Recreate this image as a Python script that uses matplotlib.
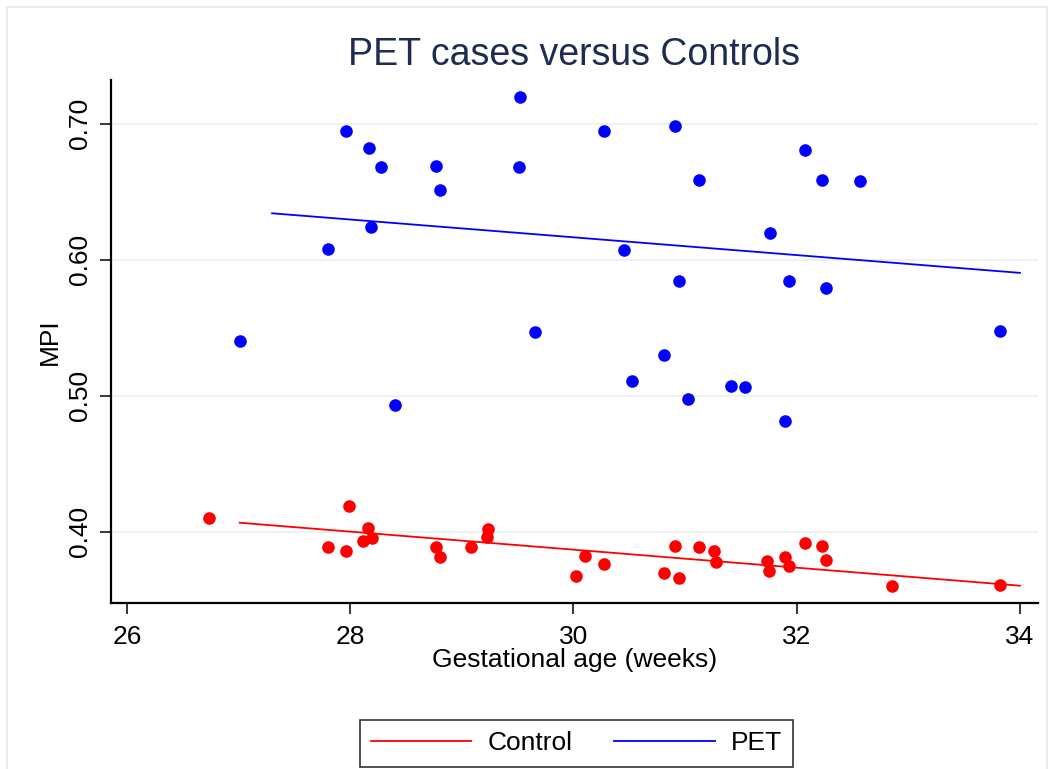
import matplotlib
matplotlib.use("Agg")
import matplotlib.pyplot as plt
from matplotlib.lines import Line2D
from matplotlib.patches import Rectangle

# Gestational age (weeks) and MPI for PET cases
pet_age = [27.965, 28.166, 28.279, 28.769, 28.802, 28.189, 27.801, 27.015, 28.401,
           29.524, 30.274, 30.913, 32.075, 29.509, 31.128, 31.759, 30.456, 30.946,
           31.929, 29.656, 30.809, 30.525, 31.412, 31.540, 31.024, 31.896, 32.230,
           32.565, 32.266, 33.825]
pet_mpi = [0.6949, 0.6819, 0.6679, 0.6687, 0.6510, 0.6243, 0.6079, 0.5402, 0.4929,
           0.7196, 0.6946, 0.6985, 0.6807, 0.6679, 0.6584, 0.6199, 0.6071, 0.5846,
           0.5846, 0.5466, 0.5297, 0.5110, 0.5071, 0.5064, 0.4976, 0.4814, 0.6588,
           0.6581, 0.5791, 0.5478]

# Gestational age (weeks) and MPI for controls
ctrl_age = [26.735, 27.992, 28.162, 28.193, 28.118, 27.801, 27.965, 28.766, 28.802,
            29.082, 29.232, 29.222, 30.101, 30.026, 30.274, 30.913, 30.809, 30.946,
            31.125, 31.260, 31.275, 31.732, 31.756, 31.896, 31.932, 32.075, 32.230,
            32.266, 32.855, 33.825]
ctrl_mpi = [0.4101, 0.4187, 0.4025, 0.3951, 0.3929, 0.3890, 0.3860, 0.3890, 0.3816,
            0.3890, 0.4022, 0.3963, 0.3819, 0.3676, 0.3762, 0.3898, 0.3699, 0.3657,
            0.3890, 0.3860, 0.3777, 0.3787, 0.3709, 0.3812, 0.3746, 0.3919, 0.3897,
            0.3790, 0.3603, 0.3608]

# Linear fit endpoints
pet_fit_age = [27.30, 34.0]
pet_fit_mpi = [0.6341, 0.5903]
ctrl_fit_age = [27.01, 34.0]
ctrl_fit_mpi = [0.4066, 0.3603]

x_ticks = [26, 28, 30, 32, 34]
y_ticks = [0.40, 0.50, 0.60, 0.70]
y_tick_labels = ["0.40", "0.50", "0.60", "0.70"]

plt.rcParams['font.family'] = ['Liberation Sans', 'DejaVu Sans']

W, H = 1054, 769
fig = plt.figure(figsize=(W / 100, H / 100), dpi=100)
fig.patch.set_facecolor('white')

# light outline around the graph region
fig.patches.append(Rectangle((7 / W, -0.02), (1047 - 7) / W, 1.02 - 7 / H,
                             transform=fig.transFigure, fill=False,
                             edgecolor='#E4ECEE', lw=1.5))

left, right, top, bottom = 111, 1037.7, 80, 602.7
ax = fig.add_axes([left / W, 1 - bottom / H, (right - left) / W, (bottom - top) / H])

red = '#FF0000'
blue = '#0000FF'

ax.scatter(ctrl_age, ctrl_mpi, s=82, color=red, linewidths=0, zorder=3)
ax.scatter(pet_age, pet_mpi, s=82, color=blue, linewidths=0, zorder=3)
ax.plot(ctrl_fit_age, ctrl_fit_mpi, color=red, lw=1.3, zorder=4)
ax.plot(pet_fit_age, pet_fit_mpi, color=blue, lw=1.3, zorder=4)

ax.set_xlim(25.857, 34.159)
ax.set_ylim(0.3478, 0.7321)
ax.set_xticks(x_ticks)
ax.set_yticks(y_ticks)
ax.set_yticklabels(y_tick_labels)

ax.yaxis.grid(True, color='#EAF1F3', lw=1.3, zorder=0)
ax.set_axisbelow(True)

for s in ['top', 'right']:
    ax.spines[s].set_visible(False)
for s in ['left', 'bottom']:
    ax.spines[s].set_linewidth(1.6)
    ax.spines[s].set_color('black')

ax.tick_params(axis='both', length=7.7, width=1.1, labelsize=19, colors='black')
ax.tick_params(axis='x', pad=8)
ax.tick_params(axis='y', pad=6, labelrotation=90)
for lab in ax.get_yticklabels():
    lab.set_va('center')

ax.set_xlabel('Gestational age (weeks)', fontsize=19)
ax.xaxis.set_label_coords(0.5, (bottom - 660) / (bottom - top))
ax.xaxis.label.set_va('center')
ax.set_ylabel('MPI', fontsize=19)
ax.yaxis.set_label_coords((50 - left) / (right - left), 0.5)
ax.yaxis.label.set_va('center')

fig.text(574 / W, 1 - 55 / H, 'PET cases versus Controls', ha='center', va='center',
         fontsize=27, color='#1E2D4F')

handles = [Line2D([], [], color=red, lw=1.3), Line2D([], [], color=blue, lw=1.3)]
leg = fig.legend(handles, ['Control', 'PET'], loc='center',
                 bbox_to_anchor=(576.5 / W, 1 - 743.5 / H), bbox_transform=fig.transFigure,
                 ncol=2, fontsize=19, handlelength=3.8, handletextpad=0.6,
                 columnspacing=1.6, borderpad=0.44, fancybox=False, frameon=True)
leg.get_frame().set_edgecolor('black')
leg.get_frame().set_linewidth(1.2)

fig.savefig('out.png', dpi=100, facecolor='white')
